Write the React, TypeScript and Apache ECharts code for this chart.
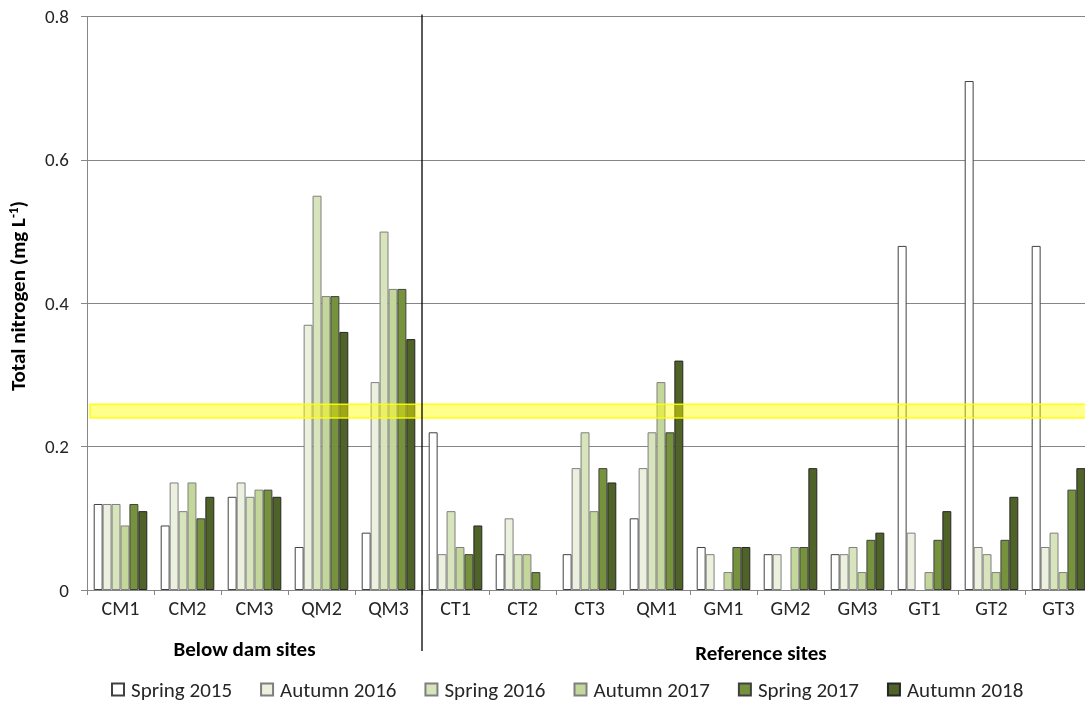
import React, { useEffect, useRef } from "react";
import * as echarts from "echarts";

const categories = ["CM1", "CM2", "CM3", "QM2", "QM3", "CT1", "CT2", "CT3", "QM1", "GM1", "GM2", "GM3", "GT1", "GT2", "GT3"];
const seriesNames = ["Spring 2015", "Autumn 2016", "Spring 2016", "Autumn 2017", "Spring 2017", "Autumn 2018"];
const spring2015 = [0.12, 0.09, 0.13, 0.06, 0.08, 0.22, 0.05, 0.05, 0.10, 0.06, 0.05, 0.05, 0.48, 0.71, 0.48];
const autumn2016 = [0.12, 0.15, 0.15, 0.37, 0.29, 0.05, 0.10, 0.17, 0.17, 0.05, 0.05, 0.05, 0.08, 0.06, 0.06];
const spring2016 = [0.12, 0.11, 0.13, 0.55, 0.50, 0.11, 0.05, 0.22, 0.22, null, null, 0.06, null, 0.05, 0.08];
const autumn2017 = [0.09, 0.15, 0.14, 0.41, 0.42, 0.06, 0.05, 0.11, 0.29, 0.025, 0.06, 0.025, 0.025, 0.025, 0.025];
const spring2017 = [0.12, 0.10, 0.14, 0.41, 0.42, 0.05, 0.025, 0.17, 0.22, 0.06, 0.06, 0.07, 0.07, 0.07, 0.14];
const autumn2018 = [0.11, 0.13, 0.13, 0.36, 0.35, 0.09, null, 0.15, 0.32, 0.06, 0.17, 0.08, 0.11, 0.13, 0.17];
const yTicks = [0, 0.2, 0.4, 0.6, 0.8];
const bandRange = [0.24, 0.259];
const groups = [
  { name: "Below dam sites", first: "CM1", last: "QM3" },
  { name: "Reference sites", first: "CT1", last: "GT3" },
];

const seriesData = [spring2015, autumn2016, spring2016, autumn2017, spring2017, autumn2018];
const fills = ["#ffffff", "#ebf1de", "#d8e4bc", "#c4d79b", "#76923c", "#4f6228"];
const borders = ["#404040", "#7f7f7f", "#7f7f7f", "#7f7f7f", "#404040", "#262626"];
const FONT = "Carlito, Lato, 'Open Sans', sans-serif";

export default function App() {
  const ref = useRef<HTMLDivElement>(null);
  useEffect(() => {
    if (!ref.current) return;
    const chart = echarts.init(ref.current, undefined, { renderer: "svg" });
    const series: any[] = seriesData.map((d, i) => ({
      name: seriesNames[i],
      type: "bar",
      data: d,
      barGap: "0%",
      barCategoryGap: "20%",
      itemStyle: { color: fills[i], borderColor: borders[i], borderWidth: 1 },
    }));
    series.push({
      name: "band",
      type: "line",
      data: [],
      z: 10,
      markArea: {
        silent: true,
        z: 10,
        itemStyle: { color: "rgba(255,255,0,0.45)", borderColor: "rgba(255,255,0,0.9)", borderWidth: 1.5 },
        data: [[{ yAxis: bandRange[0], x: 90 }, { yAxis: bandRange[1], x: 1100 }]],
      },
    });
    chart.setOption({
      animation: false,
      textStyle: { fontFamily: FONT },
      grid: { left: 87, right: 8, top: 16.5, bottom: 111, containLabel: false },
      legend: {
        data: seriesNames,
        left: 106,
        top: 674,
        itemWidth: 12,
        itemHeight: 12,
        itemGap: 28,
        icon: "rect",
        textStyle: { fontSize: 21, lineHeight: 18, color: "#262626", fontFamily: FONT, padding: [0, 0, 0, 2] },
      },
      xAxis: {
        type: "category",
        data: categories,
        axisLine: { lineStyle: { color: "#868686", width: 1 } },
        axisTick: { show: true, length: 5, lineStyle: { color: "#868686" } },
        axisLabel: { fontSize: 20, color: "#262626", margin: 8, fontFamily: FONT },
      },
      yAxis: {
        type: "value",
        min: yTicks[0],
        max: yTicks[yTicks.length - 1],
        interval: 0.2,
        axisLine: { show: true, lineStyle: { color: "#868686" } },
        axisTick: { show: true, length: 6, lineStyle: { color: "#868686" } },
        axisLabel: { fontSize: 19, color: "#262626", margin: 18, fontFamily: FONT, formatter: (v: number) => (v === 0 ? "0" : v.toFixed(1)) },
        splitLine: { lineStyle: { color: "#868686", width: 1 } },
      },
      series,
    });
    const c1 = chart.convertToPixel({ xAxisIndex: 0 }, "QM3") as number;
    const c2 = chart.convertToPixel({ xAxisIndex: 0 }, "CT1") as number;
    const divX = (c1 + c2) / 2;
    const yTop = chart.convertToPixel({ yAxisIndex: 0 }, yTicks[yTicks.length - 1]) as number;
    const groupText = groups.map((g, i) => {
      const a = chart.convertToPixel({ xAxisIndex: 0 }, g.first) as number;
      const b = chart.convertToPixel({ xAxisIndex: 0 }, g.last) as number;
      return {
        type: "text",
        x: i === 0 ? (a + b) / 2 - 10 : (a + b) / 2 + 4,
        y: i === 0 ? 649 : 653,
        style: { text: g.name, font: `bold 21px ${FONT}`, fill: "#000", align: "center", verticalAlign: "middle" },
      };
    });
    chart.setOption({
      graphic: [
        { type: "line", shape: { x1: divX, y1: yTop - 2, x2: divX, y2: 651 }, style: { stroke: "#000", lineWidth: 1.3 }, z: 20 },
        ...groupText,
        {
          type: "text",
          x: 18,
          y: 296,
          rotation: Math.PI / 2,
          style: {
            text: "{b|Total nitrogen (mg L}{s|-1}{b|)}",
            rich: {
              b: { fill: "#000", fontWeight: "bold", fontSize: 21, fontFamily: FONT },
              s: { fontWeight: "bold", fontSize: 13, fontFamily: FONT, fill: "#000", verticalAlign: "top", padding: [0, 0, 10, 0] },
            },
            align: "center",
            verticalAlign: "middle",
          },
        },
      ],
    });
    return () => chart.dispose();
  }, []);
  return <div ref={ref} style={{ position: "fixed", left: 0, top: 0, width: 1100, height: 701 }} />;
}
